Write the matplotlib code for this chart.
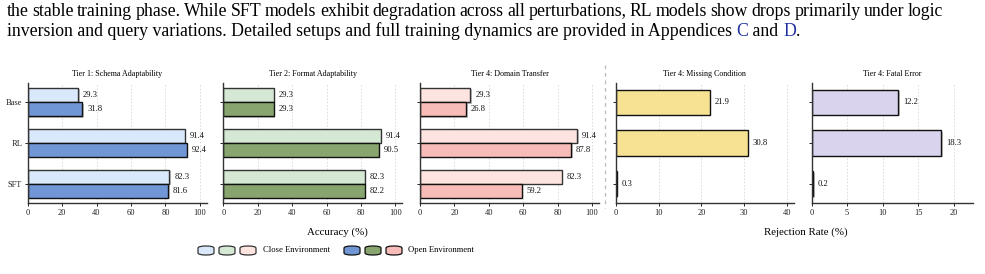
import numpy as np
import matplotlib
matplotlib.use("Agg")
import matplotlib.pyplot as plt
import matplotlib.patheffects as pe
from matplotlib.patches import FancyBboxPatch

plt.rcParams['font.family'] = ['Liberation Serif', 'DejaVu Serif']

categories = ['Base', 'RL', 'SFT']

schema_close = [29.3, 91.4, 82.3]
schema_open = [31.8, 92.4, 81.6]
format_close = [29.3, 91.4, 82.3]
format_open = [29.3, 90.5, 82.2]
domain_close = [29.3, 91.4, 82.3]
domain_open = [26.8, 87.8, 59.2]
missing_rej = [21.9, 30.8, 0.3]
fatal_rej = [12.2, 18.3, 0.2]

acc_titles = ['Tier 1: Schema Adaptability', 'Tier 2: Format Adaptability', 'Tier 4: Domain Transfer']
rej_titles = ['Tier 4: Missing Condition', 'Tier 4: Fatal Error']

close_colors = ['#dae8fc', '#d5e8d4', '#fde4e1']
open_colors = ['#7096d6', '#88a56f', '#f8bcb8']
rej_colors = ['#f6e292', '#dad3ee']

para_line1 = ("the stable training phase. While SFT models exhibit degradation across all "
              "perturbations, RL models show drops primarily under logic")
para_line2 = "inversion and query variations. Detailed setups and full training dynamics are provided in Appendices "

fig = plt.figure(figsize=(9.85, 2.74), dpi=100)
W, H = 985, 274

shadow = [pe.SimplePatchShadow(offset=(1, -1), shadow_rgbFace='#888888', alpha=0.5), pe.Normal()]


def px_axes(left, top, right, bottom):
    return fig.add_axes([left / W, 1 - bottom / H, (right - left) / W, (bottom - top) / H])


def style(ax, xmax, ticks, title, show_y):
    ax.set_xlim(0, xmax)
    ax.set_ylim(2.47, -0.47)
    ax.set_xticks(ticks)
    ax.set_yticks(np.arange(len(categories)))
    ax.set_yticklabels(categories if show_y else [])
    for s in ['top', 'right']:
        ax.spines[s].set_visible(False)
    for s in ['left', 'bottom']:
        ax.spines[s].set_color('#333333')
        ax.spines[s].set_linewidth(1.0)
    ax.tick_params(labelsize=6, length=2.5, width=0.7, pad=1.5, colors='#222222')
    ax.grid(axis='x', color='#d8d8d8', linestyle='--', linewidth=0.6, dashes=(2, 2))
    ax.set_axisbelow(True)
    ax.set_title(title, fontsize=5.8, pad=5)


def label(ax, y, v):
    ax.annotate(f'{v:.1f}', (v, y), xytext=(3.5, 0), textcoords='offset points',
                va='center', ha='left', fontsize=6.2, color='#111111')


y = np.arange(len(categories))
h = 0.345
acc_left = [27.7, 223.3, 420.0]
acc_data = [(schema_close, schema_open), (format_close, format_open), (domain_close, domain_open)]
for i, (cl, op) in enumerate(acc_data):
    ax = px_axes(acc_left[i], 83, acc_left[i] + 179, 203)
    b1 = ax.barh(y - h / 2, cl, height=h, color=close_colors[i], edgecolor='#333333', linewidth=1.0)
    b2 = ax.barh(y + h / 2, op, height=h, color=open_colors[i], edgecolor='#111111', linewidth=1.0)
    for b in list(b1) + list(b2):
        b.set_path_effects(shadow)
    for k in range(len(categories)):
        label(ax, y[k] - h / 2, cl[k])
        label(ax, y[k] + h / 2, op[k])
    style(ax, 104, np.arange(0, 101, 20), acc_titles[i], i == 0)

rej_spec = [(615.7, 794.0, missing_rej, 41.6, np.arange(0, 41, 10)),
            (811.7, 972.7, fatal_rej, 22.7, np.arange(0, 21, 5))]
for i, (l, r, vals, xmax, ticks) in enumerate(rej_spec):
    ax = px_axes(l, 83, r, 203)
    bars = ax.barh(y, vals, height=0.62, color=rej_colors[i], edgecolor='#111111', linewidth=1.0)
    for b in bars:
        b.set_path_effects(shadow)
    for k in range(len(categories)):
        label(ax, y[k], vals[k])
    style(ax, xmax, ticks, rej_titles[i], False)

# dashed separator between accuracy and rejection panels
fig.add_artist(plt.Line2D([605 / W, 605 / W], [1 - 65 / H, 1 - 208 / H], transform=fig.transFigure,
                          color='#bbbbbb', linestyle='--', linewidth=0.9, dashes=(3, 3)))

fig.text(337 / W, 1 - 232 / H, 'Accuracy (%)', ha='center', va='center', fontsize=7.8)
fig.text(806 / W, 1 - 232 / H, 'Rejection Rate (%)', ha='center', va='center', fontsize=7.8)

# legend built from rounded swatches
def swatches(x0, colors, ec):
    for j, c in enumerate(colors):
        p = FancyBboxPatch(((x0 + j * 21) / W, 1 - 255 / H), 16 / W, 9 / H,
                           boxstyle='round,pad=0,rounding_size=0.008', transform=fig.transFigure,
                           facecolor=c, edgecolor=ec, linewidth=0.9)
        fig.add_artist(p)

swatches(198, close_colors, '#333333')
fig.text(263 / W, 1 - 250.5 / H, 'Close Environment', ha='left', va='center', fontsize=6.2)
swatches(344, open_colors, '#111111')
fig.text(408 / W, 1 - 250.5 / H, 'Open Environment', ha='left', va='center', fontsize=6.2)

# paragraph text above the figure
fs = 12.8
t2 = fig.text(7 / W, 1 - 36 / H, para_line2, ha='left', va='baseline', fontsize=fs)
fig.canvas.draw()
rend = fig.canvas.get_renderer()
bb = t2.get_window_extent(rend)
x = bb.x1
tc = fig.text(x / W, 1 - 36 / H, 'C', ha='left', va='baseline', fontsize=fs, color='#1f2fa0')
x = tc.get_window_extent(rend).x1
ta = fig.text(x / W, 1 - 36 / H, ' and ', ha='left', va='baseline', fontsize=fs)
x = ta.get_window_extent(rend).x1
td = fig.text(x / W, 1 - 36 / H, 'D', ha='left', va='baseline', fontsize=fs, color='#1f2fa0')
x = td.get_window_extent(rend).x1
fig.text(x / W, 1 - 36 / H, '.', ha='left', va='baseline', fontsize=fs)

# justified first line
words = para_line1.split(' ')
widths = []
for w in words:
    t = fig.text(0, 0, w, fontsize=fs)
    widths.append(t.get_window_extent(rend).width)
    t.remove()
gap = (943 - 7 - sum(widths)) / (len(words) - 1)
x = 7
for w, wd in zip(words, widths):
    fig.text(x / W, 1 - 16.5 / H, w, ha='left', va='baseline', fontsize=fs)
    x += wd + gap

fig.savefig('out.png', dpi=100)
